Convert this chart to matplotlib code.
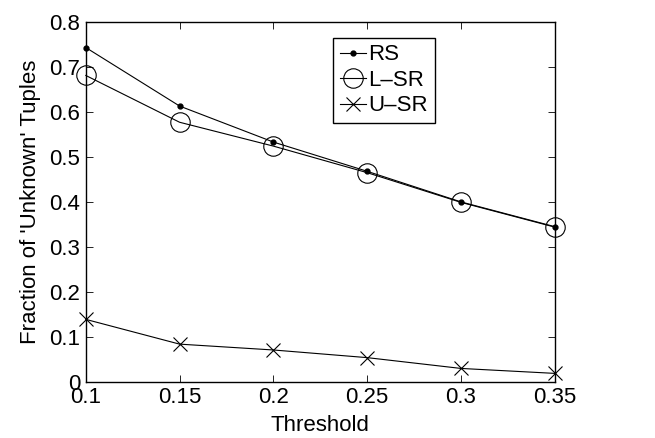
import numpy as np
import matplotlib
matplotlib.use("Agg")
import matplotlib.pyplot as plt

plt.rcParams['font.family'] = ['Liberation Sans', 'DejaVu Sans']

# Data
threshold = [0.1, 0.15, 0.2, 0.25, 0.3, 0.35]
rs = [0.743, 0.613, 0.533, 0.468, 0.400, 0.345]
lsr = [0.681, 0.577, 0.524, 0.465, 0.399, 0.344]
usr = [0.139, 0.084, 0.071, 0.054, 0.030, 0.019]

fig = plt.figure(figsize=(6.55, 4.38), dpi=100)
ax = fig.add_axes([0.131, 0.128, 0.716, 0.822])

ax.plot(threshold, rs, color='black', lw=0.8, marker='o', markersize=3.5,
        label='RS', clip_on=False)
ax.plot(threshold, lsr, color='black', lw=0.8, marker='o', markersize=14,
        markerfacecolor='none', markeredgewidth=0.8, label='L\u2013SR', clip_on=False)
ax.plot(threshold, usr, color='black', lw=0.8, marker='x', markersize=10,
        markeredgewidth=0.8, label='U\u2013SR', clip_on=False)

ax.set_xlim(0.1, 0.35)
ax.set_ylim(0, 0.8)
ax.set_xticks(threshold)
ax.set_xticklabels(['0.1', '0.15', '0.2', '0.25', '0.3', '0.35'])
ax.set_yticks(np.arange(0, 0.81, 0.1))
ax.set_yticklabels(['0', '0.1', '0.2', '0.3', '0.4', '0.5', '0.6', '0.7', '0.8'])
ax.tick_params(direction='in', top=True, right=True, labelsize=16, length=5,
               width=0.6, pad=4)
for s in ax.spines.values():
    s.set_linewidth(1.0)

ax.set_xlabel('Threshold', fontsize=16, labelpad=5)
ax.set_ylabel("Fraction of 'Unknown' Tuples", fontsize=16, labelpad=6)

leg = ax.legend(loc='upper left', bbox_to_anchor=(0.527, 0.956), fontsize=16,
                handlelength=1.2, handletextpad=0.1, borderpad=0.3,
                labelspacing=0.2, borderaxespad=0, fancybox=False, framealpha=1)
leg.get_frame().set_edgecolor('black')
leg.get_frame().set_linewidth(1.0)

fig.savefig('out.png', dpi=100)
